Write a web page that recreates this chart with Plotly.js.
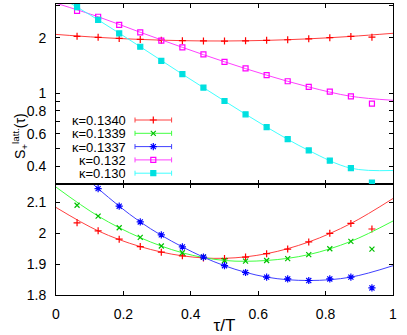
<!DOCTYPE html>
<html>
<head>
<meta charset="utf-8">
<script src="https://cdn.plot.ly/plotly-3.0.1.min.js"></script>
<style>
  body { margin: 0; background: #fff; }
  #plot { width: 407px; height: 335px; }
</style>
</head>
<body>
<div id="plot"></div>
<script>
// lattice points tau/T = i/16
var tau = [0.0625, 0.125, 0.1875, 0.25, 0.3125, 0.375, 0.4375, 0.5,
           0.5625, 0.625, 0.6875, 0.75, 0.8125, 0.875, 0.9375];

var k1340 = [2.034, 2.008, 1.981, 1.957, 1.939, 1.927, 1.920, 1.918,
             1.923, 1.934, 1.949, 1.972, 2.000, 2.032, 2.014];
var k1339 = [2.091, 2.056, 2.018, 1.987, 1.959, 1.937, 1.923, 1.912,
             1.910, 1.912, 1.918, 1.931, 1.950, 1.974, 1.949];
var k1337 = [null, 2.145, 2.088, 2.037, 1.995, 1.956, 1.923, 1.895,
             1.873, 1.858, 1.852, 1.847, 1.852, 1.858, 1.823];
var k132  = [2.80, 2.60, 2.35, 2.14, 1.926, 1.772, 1.623, 1.479,
             1.361, 1.251, 1.159, 1.079, 1.019, 0.960, 0.876];
var k130  = [2.93, 2.50, 2.11, 1.786, 1.497, 1.266, 1.071, 0.905,
             0.766, 0.653, 0.561, 0.487, 0.429, 0.390, 0.326];

// fitted curves
var tauFit = [0, 0.125, 0.25, 0.375, 0.5, 0.625, 0.75, 0.875, 1];
var fit1340 = [2.084, 2.008, 1.957, 1.927, 1.919, 1.934, 1.972, 2.032, 2.113];
var fit1339 = [2.150, 2.056, 1.986, 1.937, 1.912, 1.912, 1.931, 1.974, 2.040];
var fit1337 = [2.27, 2.145, 2.037, 1.956, 1.895, 1.858, 1.847, 1.858, 1.895];
var fit132  = [3.08, 2.60, 2.14, 1.772, 1.479, 1.251, 1.079, 0.960, 0.913];
var fit130  = [3.43, 2.50, 1.786, 1.266, 0.905, 0.653, 0.487, 0.390, 0.379];

var names = ["κ=0.1340", "κ=0.1339", "κ=0.1337", "κ=0.132", "κ=0.130"];

var xTicks = [0, 0.2, 0.4, 0.6, 0.8, 1];
var logTicks = [0.4, 0.5, 0.6, 0.7, 0.8, 0.9, 1, 2, 3];
var logTickText = ["0.4", " ", "0.6", " ", "0.8", " ", "1", "2", " "];
var linTicks = [1.8, 1.9, 2, 2.1];

var colors = ["#ff0000", "#00c000", "#0000ff", "#ff00ff", "#00e0e0"];
var lineColors = ["#ff4040", "#40ff40", "#4040ff", "#ff40ff", "#40ffff"];
var symbols = ["cross-thin-open", "x-thin-open", "asterisk-open", "square-open", "square"];
var sizes = [5, 5, 6, 5, 5];

var traces = [];

function addSeries(idx, ys, fit, xa, ya) {
    traces.push({
        x: tauFit, y: fit, xaxis: xa, yaxis: ya,
        type: "scatter", mode: "lines", line: {color: lineColors[idx], width: 1, shape: "spline"},
        hoverinfo: "skip", showlegend: false
    });
    traces.push({
        x: tau, y: ys, xaxis: xa, yaxis: ya,
        type: "scatter", mode: "markers",
        marker: {symbol: symbols[idx], size: sizes[idx], color: colors[idx],
                 line: {color: colors[idx], width: 1.2}},
        showlegend: false
    });
}

// bottom panel (linear)
addSeries(0, k1340, fit1340, "x", "y");
addSeries(1, k1339, fit1339, "x", "y");
addSeries(2, k1337, fit1337, "x", "y");
// top panel (log)
addSeries(0, k1340, fit1340, "x2", "y2");
addSeries(3, k132, fit132, "x2", "y2");
addSeries(4, k130, fit130, "x2", "y2");

// gnuplot style key: label on the left, errorbar sample on the right (pixel coords of x3/y3)
var keyRight = 127, keyMid = 153.3, keyHalf = 18.3, keyTop = 120, keyStep = 13.3;
var annotations = [];
names.forEach(function (n, i) {
    var yy = keyTop + i * keyStep;
    annotations.push({
        xref: "x3", yref: "y3", x: keyRight, y: yy, text: n, showarrow: false,
        xanchor: "right", yanchor: "middle", font: {size: 13}, height: 12, borderpad: 0
    });
    traces.push({
        x: [keyMid], y: [yy], xaxis: "x3", yaxis: "y3", type: "scatter", mode: "markers",
        marker: {symbol: symbols[i], size: sizes[i], color: colors[i], line: {color: colors[i], width: 1.2}},
        error_x: {type: "constant", value: keyHalf, width: 2.5, thickness: 1, color: lineColors[i]},
        hoverinfo: "skip", showlegend: false
    });
});

annotations.push({
    xref: "paper", yref: "paper", x: -0.105, y: 0.545, textangle: -90,
    text: "S<sub>+</sub><sup>latt.</sup>(τ)", showarrow: false,
    xanchor: "center", yanchor: "middle", font: {size: 14}
});

var axisBase = {
    showline: true, linecolor: "#000", linewidth: 1, mirror: "ticks",
    ticks: "inside", ticklen: 4, tickcolor: "#000", tickwidth: 1,
    showgrid: false, zeroline: false, ticklabelstandoff: 6
};

var split = 111 / 291;

var layout = {
    width: 407, height: 335,
    margin: {l: 56, r: 14, t: 4, b: 40},
    paper_bgcolor: "#fff", plot_bgcolor: "rgba(0,0,0,0)",
    font: {family: "Liberation Sans, Arial, sans-serif", size: 14, color: "#000"},
    showlegend: false,
    xaxis: Object.assign({}, axisBase, {
        domain: [0, 1], anchor: "y", range: [0, 1], tickvals: xTicks,
        title: {text: "τ/T", standoff: 4}
    }),
    yaxis: Object.assign({}, axisBase, {
        domain: [0, split], anchor: "x", range: [1.8, 2.16], tickvals: linTicks
    }),
    xaxis2: Object.assign({}, axisBase, {
        domain: [0, 1], anchor: "y2", range: [0, 1], tickvals: xTicks, showticklabels: false
    }),
    yaxis2: Object.assign({}, axisBase, {
        domain: [split, 1], anchor: "x2", type: "log",
        range: [Math.log10(0.32), Math.log10(3.05)],
        tickvals: logTicks, ticktext: logTickText
    }),
    xaxis3: {domain: [0, 1], anchor: "y3", range: [56, 393], visible: false, fixedrange: true},
    yaxis3: {domain: [0, 1], anchor: "x3", range: [295, 4], visible: false, fixedrange: true},
    annotations: annotations
};

Plotly.newPlot("plot", traces, layout, {displayModeBar: false, staticPlot: true});
</script>
</body>
</html>
